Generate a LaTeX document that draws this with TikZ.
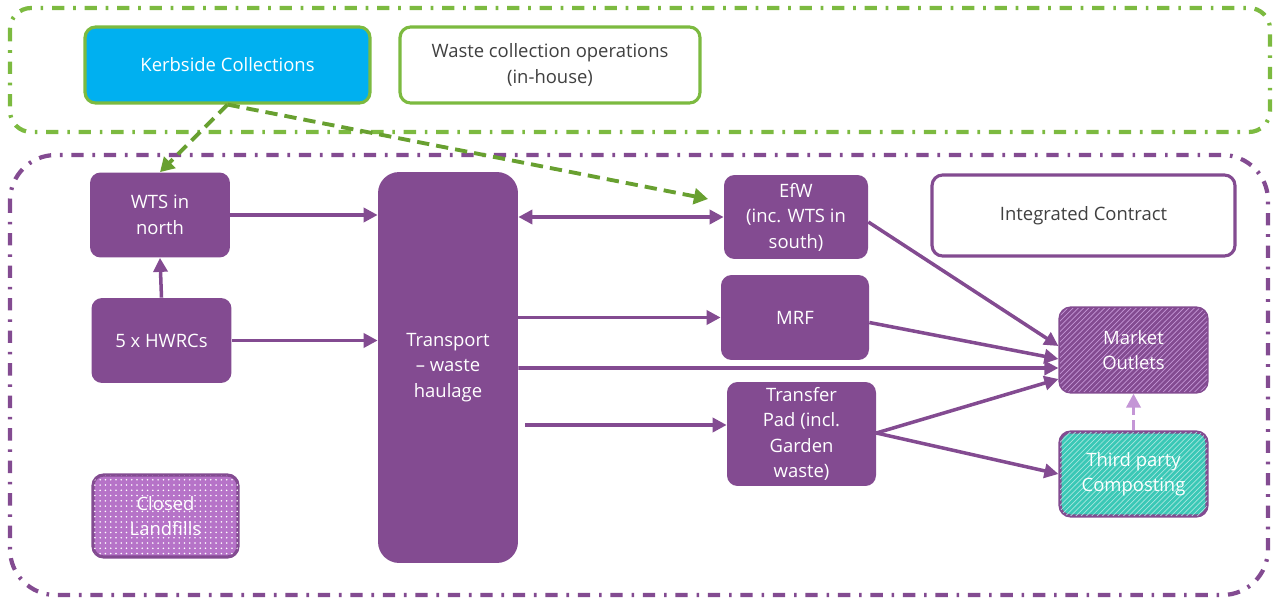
\documentclass[tikz,border=0pt]{standalone}
\usepackage{fontspec}
\setmainfont{Open Sans}
\usetikzlibrary{arrows.meta,patterns,calc}
\definecolor{wpurple}{RGB}{131,75,145}
\definecolor{lpurple}{RGB}{182,115,200}
\definecolor{dpurple}{RGB}{196,150,214}
\definecolor{wgreen}{RGB}{124,186,64}
\definecolor{dgreen}{RGB}{104,160,48}
\definecolor{kblue}{RGB}{0,176,240}
\definecolor{wteal}{RGB}{58,200,182}
\definecolor{wtext}{RGB}{64,64,64}

\tikzset{
  box/.style={rounded corners=6pt, fill=wpurple, text=white, align=center,
    minimum width=2.8cm, minimum height=1.7cm, inner sep=2pt,
    font=\fontsize{10.5}{14.5}\selectfont},
  outbox/.style={box, draw=wpurple, line width=1.8pt, fill=white, text=wtext},
  flow/.style={wpurple, line width=2pt, -{Triangle[length=8pt,width=8pt]}},
  feed/.style={dgreen, line width=2.2pt, dash pattern=on 7pt off 4pt,
    -{Triangle[length=8pt,width=9pt]}},
  zone/.style={line width=2.4pt, rounded corners=12pt,
    dash pattern=on 7pt off 5pt on 1.5pt off 5pt}
}

\begin{document}
\begin{tikzpicture}[x=0.02cm, y=-0.02cm]

	\useasboundingbox (0,0) rectangle (1273,601);

	% service zones
	\draw[zone, wgreen] (10,8) rectangle (1270,132);
	\draw[zone, wpurple, rounded corners=26pt] (10,155) rectangle (1268,595);

	% collection
	\node[box, fill=kblue, draw=wgreen, line width=1.8pt, minimum width=5.7cm, minimum height=1.52cm] (kerb) at (227.5,65) {Kerbside Collections};
	\node[outbox, draw=wgreen, minimum width=6cm, minimum height=1.52cm] (ops) at (550,65) {Waste collection operations\\(in-house)};

	% sites
	\node[box] (wts) at (160,215) {WTS in\\north};
	\node[box] (hwrc) at (161.5,340.5) {5 x HWRCs};
	\node[box, fill=lpurple, draw=wpurple, line width=1.8pt, minimum width=2.9cm, minimum height=1.64cm,
		postaction={pattern=dots, pattern color=white}] (land) at (165.5,516) {Closed\\Landfills};
	\node[box, rounded corners=12pt, minimum height=7.82cm] (trans) at (448,367.5) {Transport\\– waste\\haulage};

	% treatment
	\node[box, minimum width=2.88cm, minimum height=1.68cm] (efw) at (796,217) {EfW\\(inc. WTS in\\south)};
	\node[box, minimum width=2.96cm] (mrf) at (795,317.5) {MRF};
	\node[box, minimum width=2.98cm, minimum height=2.08cm] (tpad) at (801.5,434) {Transfer\\Pad (incl.\\Garden\\waste)};
	\node[outbox, minimum width=6.06cm, minimum height=1.62cm] (intc) at (1083.5,215.5) {Integrated Contract};

	% outlets
	\node[box, draw=wpurple, line width=1.8pt, minimum width=2.94cm, minimum height=1.68cm,
		postaction={pattern=north east lines, pattern color=dpurple}] (mkt) at (1133.5,350) {Market\\Outlets};
	\node[box, fill=wteal, draw=wpurple, line width=1.8pt, minimum width=2.94cm, minimum height=1.68cm,
		postaction={pattern=north east lines, pattern color=white!55!wteal}] (third) at (1133.5,474) {Third party\\Composting};

	\coordinate (efwin) at (708,199);

	% flows
	\draw[feed] (kerb.south) -- (wts.north);
	\draw[feed] (kerb.south) -- (efwin);
	\draw[flow] (wts.east) -- (wts.east -| trans.west);
	\draw[flow] (hwrc.north) -- (wts.south);
	\draw[flow] (hwrc.east) -- (hwrc.east -| trans.west);
	\draw[flow, {Triangle[length=8pt,width=8pt]}-{Triangle[length=8pt,width=8pt]}] (trans.east |- efw.west) -- (efw.west);
	\draw[flow] (trans.east |- mrf.west) -- (mrf.west);
	\draw[flow] (trans.east |- 0,368) -- ([yshift=-0.36cm]mkt.west);
	\draw[flow] ([xshift=4pt]trans.east |- 0,425) -- (tpad.west |- 0,425);
	\draw[flow] ([yshift=-0.1cm]efw.east) -- ([yshift=0.08cm]mkt.west);
	\draw[flow] ([yshift=-0.1cm]mrf.east) -- ([yshift=-0.18cm]mkt.west);
	\draw[flow] ([yshift=0.02cm]tpad.east) -- ([yshift=-0.58cm]mkt.west);
	\draw[flow] ([yshift=0.02cm]tpad.east) -- (third.west);
	\draw[flow, dpurple, dash pattern=on 6pt off 3pt] (third.north) -- (mkt.south);

\end{tikzpicture}
\end{document}
